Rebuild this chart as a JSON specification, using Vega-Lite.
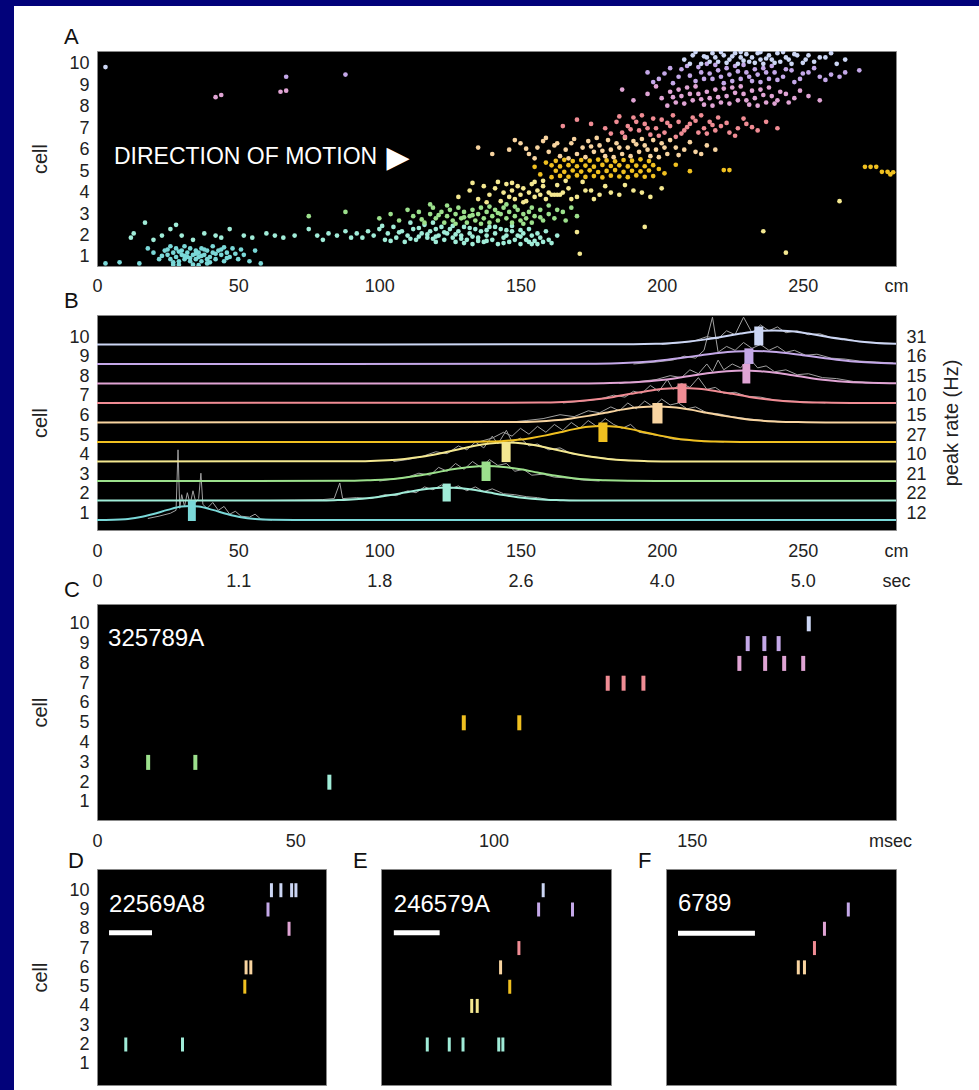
{
"$schema": "https://vega.github.io/schema/vega-lite/v6.json",
"background": "white",
"padding": 0,
"spacing": 0,
"config": {
  "font": "Liberation Sans",
  "view": {"fill": "black", "stroke": "#888"},
  "axis": {"labelFont": "Liberation Sans", "labelFontSize": 18, "labelColor": "#222", "titleFont": "Liberation Sans", "titleFontSize": 20, "titleFontWeight": "normal", "titleColor": "#222", "ticks": false, "tickSize": 0, "domain": false, "grid": false, "labelFlush": false, "labelOverlap": false},
  "title": {"font": "Liberation Sans", "fontSize": 22, "fontWeight": "normal", "color": "#111", "anchor": "start", "frame": "group"}
},
"vconcat": [
  {"width": 979, "height": 6, "view": {"fill": "#02027a", "stroke": null}, "data": {"values": []}, "mark": "rect", "encoding": {}},
  {"spacing": 16, "hconcat": [
    {"width": 14, "height": 1084, "view": {"fill": "#02027a", "stroke": null}, "data": {"values": []}, "mark": "rect", "encoding": {}},
    {"spacing": -13, "vconcat": [
      {"width": 1, "height": 13, "view": {"fill": "white", "stroke": null}, "data": {"values": []}, "mark": "rect", "encoding": {}},
      {"title": {"text": ["", "A"], "lineHeight": 19, "offset": 2, "dx": -33},
       "width": 799, "height": 215,
       "layer": [
        {"data": {"values": [
{"c":1,"p":24,"y":1.3},{"c":1,"p":25,"y":1.1},{"c":1,"p":26,"y":0.9},{"c":1,"p":27,"y":1.2},{"c":1,"p":28,"y":1.0},{"c":1,"p":28,"y":1.4},{"c":1,"p":29,"y":0.8},{"c":1,"p":30,"y":1.1},{"c":1,"p":30,"y":1.3},{"c":1,"p":31,"y":0.9},{"c":1,"p":32,"y":1.2},{"c":1,"p":32,"y":1.0},{"c":1,"p":33,"y":1.4},{"c":1,"p":33,"y":0.8},{"c":1,"p":34,"y":1.1},{"c":1,"p":35,"y":1.3},{"c":1,"p":35,"y":0.9},{"c":1,"p":36,"y":1.0},{"c":1,"p":36,"y":1.2},{"c":1,"p":37,"y":1.4},{"c":1,"p":37,"y":0.8},{"c":1,"p":38,"y":1.1},{"c":1,"p":39,"y":0.9},{"c":1,"p":39,"y":1.3},{"c":1,"p":40,"y":1.0},{"c":1,"p":41,"y":1.2},{"c":1,"p":42,"y":0.9},{"c":1,"p":43,"y":1.3},{"c":1,"p":44,"y":1.1},{"c":1,"p":45,"y":0.8},{"c":1,"p":46,"y":1.2},{"c":1,"p":47,"y":1.0},{"c":1,"p":48,"y":1.4},{"c":1,"p":50,"y":0.9},{"c":1,"p":52,"y":1.1},{"c":1,"p":54,"y":0.8},{"c":1,"p":56,"y":1.3},{"c":1,"p":22,"y":0.9},{"c":1,"p":20,"y":1.2},{"c":1,"p":18,"y":1.4},{"c":1,"p":15,"y":0.7},{"c":1,"p":29,"y":0.65},{"c":1,"p":34,"y":0.65},{"c":1,"p":39,"y":0.7},{"c":1,"p":58,"y":0.7},{"c":1,"p":31,"y":1.5},{"c":1,"p":26,"y":1.5},{"c":1,"p":41,"y":1.5},{"c":1,"p":3,"y":0.7},{"c":1,"p":8,"y":0.75},
{"c":1,"p":23,"y":1.05},{"c":1,"p":25,"y":1.35},{"c":1,"p":27,"y":0.75},{"c":1,"p":29,"y":1.25},{"c":1,"p":31,"y":1.05},{"c":1,"p":33,"y":0.95},{"c":1,"p":35,"y":1.15},{"c":1,"p":37,"y":1.05},{"c":1,"p":38,"y":1.35},{"c":1,"p":40,"y":0.75},{"c":1,"p":42,"y":1.15},{"c":1,"p":44,"y":1.35},{"c":1,"p":46,"y":0.95},{"c":1,"p":49,"y":1.15},{"c":1,"p":51,"y":1.35},{"c":1,"p":27,"y":0.65},{"c":1,"p":36,"y":0.62},{"c":1,"p":45,"y":1.45},
{"c":2,"p":12,"y":1.9},{"c":2,"p":13,"y":2.1},{"c":2,"p":17,"y":2.6},{"c":2,"p":20,"y":1.8},{"c":2,"p":23,"y":2.0},{"c":2,"p":26,"y":2.3},{"c":2,"p":28,"y":2.5},{"c":2,"p":30,"y":2.0},{"c":2,"p":34,"y":1.8},{"c":2,"p":38,"y":2.1},{"c":2,"p":42,"y":2.0},{"c":2,"p":44,"y":1.9},{"c":2,"p":47,"y":2.3},{"c":2,"p":52,"y":2.0},{"c":2,"p":55,"y":1.9},{"c":2,"p":60,"y":2.1},{"c":2,"p":63,"y":2.0},{"c":2,"p":66,"y":1.9},{"c":2,"p":70,"y":2.0},{"c":2,"p":75,"y":2.3},{"c":2,"p":78,"y":2.0},{"c":2,"p":80,"y":1.8},{"c":2,"p":82,"y":2.1},{"c":2,"p":85,"y":2.0},{"c":2,"p":88,"y":2.2},{"c":2,"p":90,"y":1.9},
{"c":2,"p":92,"y":2.1},{"c":2,"p":94,"y":1.9},{"c":2,"p":96,"y":2.2},{"c":2,"p":98,"y":2.0},{"c":2,"p":100,"y":2.3},{"c":2,"p":102,"y":1.8},{"c":2,"p":103,"y":2.1},{"c":2,"p":105,"y":2.4},{"c":2,"p":106,"y":1.9},{"c":2,"p":108,"y":2.2},{"c":2,"p":109,"y":1.7},{"c":2,"p":110,"y":2.0},{"c":2,"p":112,"y":2.3},{"c":2,"p":113,"y":1.8},{"c":2,"p":115,"y":2.1},{"c":2,"p":116,"y":2.5},{"c":2,"p":117,"y":1.9},{"c":2,"p":118,"y":2.2},{"c":2,"p":120,"y":1.7},{"c":2,"p":121,"y":2.0},{"c":2,"p":122,"y":2.4},{"c":2,"p":123,"y":1.8},{"c":2,"p":124,"y":2.1},{"c":2,"p":125,"y":2.3},{"c":2,"p":126,"y":1.9},{"c":2,"p":127,"y":1.7},{"c":2,"p":128,"y":2.2},{"c":2,"p":129,"y":2.0},{"c":2,"p":130,"y":2.4},{"c":2,"p":131,"y":1.8},{"c":2,"p":132,"y":2.1},{"c":2,"p":133,"y":1.6},{"c":2,"p":134,"y":2.3},{"c":2,"p":135,"y":1.9},{"c":2,"p":136,"y":2.2},{"c":2,"p":137,"y":1.7},{"c":2,"p":138,"y":2.0},{"c":2,"p":139,"y":2.4},{"c":2,"p":140,"y":1.8},{"c":2,"p":141,"y":2.1},{"c":2,"p":142,"y":1.6},{"c":2,"p":143,"y":2.3},{"c":2,"p":144,"y":1.9},{"c":2,"p":145,"y":2.0},{"c":2,"p":146,"y":1.7},{"c":2,"p":147,"y":2.2},{"c":2,"p":148,"y":1.8},{"c":2,"p":149,"y":2.0},{"c":2,"p":150,"y":1.6},{"c":2,"p":151,"y":2.1},{"c":2,"p":152,"y":1.8},{"c":2,"p":153,"y":1.7},{"c":2,"p":154,"y":2.0},{"c":2,"p":156,"y":1.6},{"c":2,"p":157,"y":1.9},{"c":2,"p":158,"y":1.7},{"c":2,"p":160,"y":1.8},{"c":2,"p":163,"y":2.0},{"c":2,"p":119,"y":2.6},{"c":2,"p":111,"y":2.6},{"c":2,"p":114,"y":1.95},{"c":2,"p":119,"y":1.85},{"c":2,"p":127,"y":2.05},{"c":2,"p":133,"y":1.95},{"c":2,"p":138,"y":1.75},{"c":2,"p":145,"y":2.25},{"c":2,"p":150,"y":1.95},{"c":2,"p":155,"y":1.75},
{"c":2,"p":101,"y":2.45},{"c":2,"p":104,"y":1.75},{"c":2,"p":107,"y":2.15},{"c":2,"p":111,"y":1.85},{"c":2,"p":114,"y":2.35},{"c":2,"p":117,"y":2.05},{"c":2,"p":120,"y":2.3},{"c":2,"p":123,"y":2.15},{"c":2,"p":126,"y":2.45},{"c":2,"p":129,"y":1.85},{"c":2,"p":132,"y":2.35},{"c":2,"p":135,"y":1.75},{"c":2,"p":138,"y":2.25},{"c":2,"p":141,"y":2.4},{"c":2,"p":144,"y":1.65},{"c":2,"p":147,"y":2.45},{"c":2,"p":150,"y":2.25},{"c":2,"p":153,"y":2.3},{"c":2,"p":156,"y":2.1},{"c":2,"p":159,"y":2.2},{"c":2,"p":161,"y":1.65},{"c":2,"p":154,"y":1.6},{"c":2,"p":130,"y":1.65},{"c":2,"p":120,"y":1.95},
{"c":3,"p":100,"y":2.8},{"c":3,"p":104,"y":3.0},{"c":3,"p":107,"y":2.7},{"c":3,"p":110,"y":3.2},{"c":3,"p":112,"y":2.9},{"c":3,"p":114,"y":3.1},{"c":3,"p":116,"y":2.6},{"c":3,"p":118,"y":3.0},{"c":3,"p":119,"y":3.3},{"c":3,"p":120,"y":2.8},{"c":3,"p":122,"y":3.1},{"c":3,"p":123,"y":2.6},{"c":3,"p":124,"y":2.9},{"c":3,"p":125,"y":3.2},{"c":3,"p":126,"y":2.7},{"c":3,"p":127,"y":3.0},{"c":3,"p":128,"y":3.3},{"c":3,"p":129,"y":2.8},{"c":3,"p":130,"y":3.1},{"c":3,"p":131,"y":2.6},{"c":3,"p":132,"y":2.9},{"c":3,"p":133,"y":3.2},{"c":3,"p":134,"y":2.7},{"c":3,"p":135,"y":3.0},{"c":3,"p":136,"y":3.3},{"c":3,"p":137,"y":2.8},{"c":3,"p":138,"y":3.1},{"c":3,"p":139,"y":2.6},{"c":3,"p":140,"y":2.9},{"c":3,"p":141,"y":3.2},{"c":3,"p":142,"y":2.7},{"c":3,"p":143,"y":3.0},{"c":3,"p":144,"y":3.3},{"c":3,"p":145,"y":2.8},{"c":3,"p":146,"y":3.1},{"c":3,"p":147,"y":2.6},{"c":3,"p":148,"y":2.9},{"c":3,"p":149,"y":3.2},{"c":3,"p":150,"y":2.7},{"c":3,"p":151,"y":3.0},{"c":3,"p":152,"y":2.8},{"c":3,"p":153,"y":3.1},{"c":3,"p":154,"y":2.6},{"c":3,"p":155,"y":2.9},{"c":3,"p":157,"y":3.2},{"c":3,"p":158,"y":2.7},{"c":3,"p":160,"y":3.0},{"c":3,"p":162,"y":2.8},{"c":3,"p":165,"y":3.1},{"c":3,"p":170,"y":2.9},{"c":3,"p":88,"y":3.1},{"c":3,"p":75,"y":2.9},
{"c":3,"p":115,"y":2.75},{"c":3,"p":118,"y":3.45},{"c":3,"p":121,"y":2.95},{"c":3,"p":124,"y":3.4},{"c":3,"p":127,"y":2.55},{"c":3,"p":130,"y":2.85},{"c":3,"p":133,"y":2.95},{"c":3,"p":136,"y":2.55},{"c":3,"p":139,"y":3.35},{"c":3,"p":142,"y":3.05},{"c":3,"p":145,"y":3.45},{"c":3,"p":148,"y":3.35},{"c":3,"p":151,"y":2.55},{"c":3,"p":154,"y":3.3},{"c":3,"p":157,"y":2.85},{"c":3,"p":160,"y":3.4},{"c":3,"p":163,"y":3.2},{"c":3,"p":166,"y":2.7},{"c":3,"p":168,"y":3.3},
{"c":4,"p":128,"y":3.8},{"c":4,"p":132,"y":4.1},{"c":4,"p":135,"y":3.7},{"c":4,"p":137,"y":4.3},{"c":4,"p":139,"y":3.9},{"c":4,"p":141,"y":4.2},{"c":4,"p":143,"y":3.6},{"c":4,"p":144,"y":4.0},{"c":4,"p":145,"y":4.4},{"c":4,"p":146,"y":3.8},{"c":4,"p":147,"y":4.1},{"c":4,"p":148,"y":3.7},{"c":4,"p":149,"y":4.3},{"c":4,"p":150,"y":3.9},{"c":4,"p":151,"y":4.2},{"c":4,"p":152,"y":3.6},{"c":4,"p":153,"y":4.0},{"c":4,"p":154,"y":4.4},{"c":4,"p":155,"y":3.8},{"c":4,"p":156,"y":4.1},{"c":4,"p":157,"y":3.9},{"c":4,"p":158,"y":4.3},{"c":4,"p":159,"y":3.7},{"c":4,"p":160,"y":4.0},{"c":4,"p":161,"y":3.9},{"c":4,"p":162,"y":3.9},{"c":4,"p":163,"y":3.9},{"c":4,"p":164,"y":3.9},{"c":4,"p":165,"y":4.0},{"c":4,"p":167,"y":4.2},{"c":4,"p":170,"y":3.8},{"c":4,"p":173,"y":4.1},{"c":4,"p":176,"y":3.7},{"c":4,"p":180,"y":4.3},{"c":4,"p":185,"y":3.9},{"c":4,"p":190,"y":4.1},{"c":4,"p":196,"y":3.8},{"c":4,"p":200,"y":4.2},{"c":4,"p":170,"y":2.16},{"c":4,"p":194,"y":2.4},{"c":4,"p":236,"y":2.2},{"c":4,"p":244,"y":1.2},{"c":4,"p":263,"y":3.6},{"c":4,"p":171,"y":1.15},
{"c":4,"p":133,"y":4.45},{"c":4,"p":138,"y":3.55},{"c":4,"p":142,"y":4.5},{"c":4,"p":147,"y":4.45},{"c":4,"p":151,"y":3.55},{"c":4,"p":155,"y":4.5},{"c":4,"p":158,"y":4.55},{"c":4,"p":163,"y":4.35},{"c":4,"p":166,"y":4.55},{"c":4,"p":168,"y":3.7},{"c":4,"p":172,"y":4.5},{"c":4,"p":175,"y":4.1},{"c":4,"p":178,"y":3.9},{"c":4,"p":182,"y":4.0},{"c":4,"p":187,"y":4.35},{"c":4,"p":193,"y":4.0},
{"c":5,"p":161,"y":4.72},{"c":5,"p":164,"y":4.78},{"c":5,"p":167,"y":4.74},{"c":5,"p":170,"y":4.8},{"c":5,"p":173,"y":4.73},{"c":5,"p":176,"y":4.77},{"c":5,"p":179,"y":4.71},{"c":5,"p":182,"y":4.79},{"c":5,"p":185,"y":4.75},{"c":5,"p":188,"y":4.72},{"c":5,"p":191,"y":4.8},{"c":5,"p":194,"y":4.74},{"c":5,"p":197,"y":4.77},
{"c":5,"p":162.5,"y":5.02},{"c":5,"p":165.5,"y":4.97},{"c":5,"p":168.5,"y":5.03},{"c":5,"p":171.5,"y":4.98},{"c":5,"p":174.5,"y":5.04},{"c":5,"p":177.5,"y":4.96},{"c":5,"p":180.5,"y":5.01},{"c":5,"p":183.5,"y":5.05},{"c":5,"p":186.5,"y":4.97},{"c":5,"p":189.5,"y":5.02},{"c":5,"p":192.5,"y":4.99},{"c":5,"p":195.5,"y":5.03},
{"c":5,"p":161,"y":5.27},{"c":5,"p":164,"y":5.22},{"c":5,"p":167,"y":5.28},{"c":5,"p":170,"y":5.23},{"c":5,"p":173,"y":5.26},{"c":5,"p":176,"y":5.21},{"c":5,"p":179,"y":5.29},{"c":5,"p":182,"y":5.24},{"c":5,"p":185,"y":5.27},{"c":5,"p":188,"y":5.22},{"c":5,"p":191,"y":5.26},{"c":5,"p":194,"y":5.23},{"c":5,"p":197,"y":5.28},
{"c":5,"p":162.5,"y":5.48},{"c":5,"p":165.5,"y":5.53},{"c":5,"p":168.5,"y":5.47},{"c":5,"p":171.5,"y":5.52},{"c":5,"p":174.5,"y":5.49},{"c":5,"p":177.5,"y":5.54},{"c":5,"p":180.5,"y":5.5},{"c":5,"p":183.5,"y":5.46},{"c":5,"p":186.5,"y":5.52},{"c":5,"p":189.5,"y":5.49},{"c":5,"p":192.5,"y":5.55},{"c":5,"p":195.5,"y":5.47},
{"c":5,"p":157,"y":4.85},{"c":5,"p":155,"y":5.2},{"c":5,"p":159,"y":5.4},{"c":5,"p":199,"y":5.1},{"c":5,"p":201,"y":4.9},{"c":5,"p":205,"y":5.3},{"c":5,"p":210,"y":5.0},{"c":5,"p":222,"y":5.05},{"c":5,"p":224,"y":5.05},{"c":5,"p":272,"y":5.2},{"c":5,"p":274,"y":5.2},{"c":5,"p":276,"y":5.2},{"c":5,"p":278,"y":4.97},{"c":5,"p":280,"y":4.97},{"c":5,"p":282,"y":4.95},{"c":5,"p":281,"y":4.85},
{"c":6,"p":146,"y":6.0},{"c":6,"p":150,"y":6.3},{"c":6,"p":153,"y":5.8},{"c":6,"p":156,"y":6.1},{"c":6,"p":158,"y":6.4},{"c":6,"p":160,"y":5.9},{"c":6,"p":162,"y":6.2},{"c":6,"p":164,"y":5.7},{"c":6,"p":166,"y":6.0},{"c":6,"p":168,"y":6.3},{"c":6,"p":170,"y":5.8},{"c":6,"p":172,"y":6.1},{"c":6,"p":174,"y":6.4},{"c":6,"p":176,"y":5.9},{"c":6,"p":178,"y":6.2},{"c":6,"p":180,"y":5.7},{"c":6,"p":182,"y":6.0},{"c":6,"p":184,"y":6.3},{"c":6,"p":186,"y":5.8},{"c":6,"p":188,"y":6.1},{"c":6,"p":190,"y":6.4},{"c":6,"p":192,"y":5.9},{"c":6,"p":194,"y":6.2},{"c":6,"p":196,"y":5.7},{"c":6,"p":198,"y":6.0},{"c":6,"p":200,"y":6.3},{"c":6,"p":202,"y":5.8},{"c":6,"p":205,"y":6.1},{"c":6,"p":208,"y":6.0},{"c":6,"p":212,"y":5.9},{"c":6,"p":216,"y":6.2},{"c":6,"p":135,"y":6.1},{"c":6,"p":140,"y":5.8},
{"c":6,"p":148,"y":6.45},{"c":6,"p":152,"y":6.05},{"c":6,"p":155,"y":5.6},{"c":6,"p":159,"y":6.55},{"c":6,"p":163,"y":6.3},{"c":6,"p":167,"y":5.6},{"c":6,"p":169,"y":6.5},{"c":6,"p":173,"y":5.65},{"c":6,"p":175,"y":6.15},{"c":6,"p":177,"y":6.55},{"c":6,"p":179,"y":5.95},{"c":6,"p":181,"y":6.45},{"c":6,"p":183,"y":5.65},{"c":6,"p":185,"y":6.1},{"c":6,"p":187,"y":6.55},{"c":6,"p":189,"y":5.7},{"c":6,"p":191,"y":6.25},{"c":6,"p":193,"y":6.5},{"c":6,"p":195,"y":6.0},{"c":6,"p":197,"y":6.45},{"c":6,"p":199,"y":5.65},{"c":6,"p":201,"y":6.1},{"c":6,"p":203,"y":6.45},{"c":6,"p":206,"y":5.75},{"c":6,"p":210,"y":6.35},{"c":6,"p":214,"y":5.8},{"c":6,"p":219,"y":6.0},
{"c":7,"p":180,"y":7.0},{"c":7,"p":184,"y":7.3},{"c":7,"p":186,"y":6.8},{"c":7,"p":188,"y":7.1},{"c":7,"p":190,"y":7.5},{"c":7,"p":192,"y":6.9},{"c":7,"p":194,"y":7.2},{"c":7,"p":196,"y":6.7},{"c":7,"p":198,"y":7.0},{"c":7,"p":200,"y":7.4},{"c":7,"p":201,"y":6.8},{"c":7,"p":203,"y":7.1},{"c":7,"p":205,"y":6.6},{"c":7,"p":206,"y":7.3},{"c":7,"p":208,"y":6.9},{"c":7,"p":210,"y":7.2},{"c":7,"p":211,"y":7.5},{"c":7,"p":213,"y":6.8},{"c":7,"p":215,"y":7.0},{"c":7,"p":217,"y":7.3},{"c":7,"p":219,"y":6.9},{"c":7,"p":221,"y":7.1},{"c":7,"p":224,"y":6.8},{"c":7,"p":227,"y":7.0},{"c":7,"p":230,"y":7.2},{"c":7,"p":234,"y":6.9},{"c":7,"p":175,"y":7.2},{"c":7,"p":170,"y":7.4},{"c":7,"p":165,"y":7.1},
{"c":7,"p":182,"y":6.75},{"c":7,"p":185,"y":7.55},{"c":7,"p":187,"y":6.6},{"c":7,"p":189,"y":6.95},{"c":7,"p":191,"y":7.3},{"c":7,"p":193,"y":7.6},{"c":7,"p":195,"y":7.0},{"c":7,"p":197,"y":7.45},{"c":7,"p":199,"y":6.65},{"c":7,"p":202,"y":7.25},{"c":7,"p":204,"y":7.6},{"c":7,"p":207,"y":6.75},{"c":7,"p":209,"y":7.05},{"c":7,"p":212,"y":7.35},{"c":7,"p":214,"y":7.6},{"c":7,"p":216,"y":6.75},{"c":7,"p":218,"y":7.15},{"c":7,"p":220,"y":7.5},{"c":7,"p":223,"y":7.25},{"c":7,"p":226,"y":6.65},{"c":7,"p":229,"y":7.45},{"c":7,"p":232,"y":7.05},{"c":7,"p":237,"y":7.3},{"c":7,"p":241,"y":7.0},
{"c":8,"p":200,"y":8.4},{"c":8,"p":203,"y":8.7},{"c":8,"p":205,"y":8.2},{"c":8,"p":207,"y":8.5},{"c":8,"p":209,"y":8.9},{"c":8,"p":211,"y":8.3},{"c":8,"p":213,"y":8.6},{"c":8,"p":215,"y":8.1},{"c":8,"p":217,"y":8.4},{"c":8,"p":219,"y":8.8},{"c":8,"p":221,"y":8.2},{"c":8,"p":223,"y":8.5},{"c":8,"p":225,"y":8.9},{"c":8,"p":227,"y":8.3},{"c":8,"p":229,"y":8.6},{"c":8,"p":231,"y":8.1},{"c":8,"p":233,"y":8.4},{"c":8,"p":235,"y":8.8},{"c":8,"p":237,"y":8.2},{"c":8,"p":239,"y":8.5},{"c":8,"p":241,"y":8.3},{"c":8,"p":244,"y":8.6},{"c":8,"p":247,"y":8.4},{"c":8,"p":195,"y":8.6},{"c":8,"p":190,"y":8.3},{"c":8,"p":186,"y":8.8},{"c":8,"p":42,"y":8.45},{"c":8,"p":44,"y":8.55},{"c":8,"p":65,"y":8.7},{"c":8,"p":67,"y":8.75},
{"c":8,"p":202,"y":8.05},{"c":8,"p":204,"y":8.45},{"c":8,"p":206,"y":8.8},{"c":8,"p":208,"y":8.15},{"c":8,"p":210,"y":8.6},{"c":8,"p":212,"y":8.95},{"c":8,"p":214,"y":8.35},{"c":8,"p":216,"y":8.7},{"c":8,"p":218,"y":8.05},{"c":8,"p":220,"y":8.45},{"c":8,"p":222,"y":8.85},{"c":8,"p":224,"y":8.15},{"c":8,"p":226,"y":8.65},{"c":8,"p":228,"y":8.95},{"c":8,"p":230,"y":8.3},{"c":8,"p":232,"y":8.75},{"c":8,"p":234,"y":8.05},{"c":8,"p":236,"y":8.55},{"c":8,"p":238,"y":8.9},{"c":8,"p":240,"y":8.15},{"c":8,"p":242,"y":8.7},{"c":8,"p":245,"y":8.2},{"c":8,"p":249,"y":8.75},{"c":8,"p":252,"y":8.5},{"c":8,"p":256,"y":8.3},{"c":8,"p":198,"y":8.95},
{"c":9,"p":195,"y":9.6},{"c":9,"p":199,"y":9.3},{"c":9,"p":203,"y":9.8},{"c":9,"p":206,"y":9.4},{"c":9,"p":209,"y":9.9},{"c":9,"p":212,"y":9.2},{"c":9,"p":214,"y":9.6},{"c":9,"p":216,"y":10.0},{"c":9,"p":218,"y":9.3},{"c":9,"p":220,"y":9.7},{"c":9,"p":222,"y":9.1},{"c":9,"p":224,"y":9.5},{"c":9,"p":226,"y":9.9},{"c":9,"p":228,"y":9.3},{"c":9,"p":230,"y":9.6},{"c":9,"p":232,"y":9.2},{"c":9,"p":234,"y":9.5},{"c":9,"p":236,"y":9.8},{"c":9,"p":238,"y":9.3},{"c":9,"p":240,"y":9.6},{"c":9,"p":243,"y":9.4},{"c":9,"p":246,"y":9.7},{"c":9,"p":249,"y":9.3},{"c":9,"p":252,"y":9.6},{"c":9,"p":256,"y":9.4},{"c":9,"p":260,"y":9.5},{"c":9,"p":265,"y":9.6},{"c":9,"p":270,"y":9.7},{"c":9,"p":67,"y":9.4},{"c":9,"p":88,"y":9.5},
{"c":9,"p":197,"y":9.15},{"c":9,"p":201,"y":9.55},{"c":9,"p":204,"y":9.1},{"c":9,"p":207,"y":9.75},{"c":9,"p":210,"y":9.45},{"c":9,"p":213,"y":9.85},{"c":9,"p":215,"y":9.3},{"c":9,"p":217,"y":9.55},{"c":9,"p":219,"y":9.95},{"c":9,"p":221,"y":9.4},{"c":9,"p":223,"y":9.8},{"c":9,"p":225,"y":9.2},{"c":9,"p":227,"y":9.65},{"c":9,"p":229,"y":9.95},{"c":9,"p":231,"y":9.4},{"c":9,"p":233,"y":9.75},{"c":9,"p":235,"y":9.15},{"c":9,"p":237,"y":9.6},{"c":9,"p":239,"y":9.9},{"c":9,"p":241,"y":9.25},{"c":9,"p":244,"y":9.75},{"c":9,"p":247,"y":9.15},{"c":9,"p":250,"y":9.55},{"c":9,"p":254,"y":9.8},{"c":9,"p":258,"y":9.25},{"c":9,"p":263,"y":9.4},
{"c":10,"p":208,"y":10.2},{"c":10,"p":211,"y":10.4},{"c":10,"p":214,"y":10.0},{"c":10,"p":216,"y":10.3},{"c":10,"p":218,"y":10.5},{"c":10,"p":220,"y":10.1},{"c":10,"p":222,"y":10.4},{"c":10,"p":224,"y":10.2},{"c":10,"p":226,"y":10.5},{"c":10,"p":227,"y":10.0},{"c":10,"p":228,"y":10.3},{"c":10,"p":230,"y":10.45},{"c":10,"p":231,"y":10.1},{"c":10,"p":232,"y":10.3},{"c":10,"p":234,"y":10.5},{"c":10,"p":235,"y":10.2},{"c":10,"p":236,"y":10.0},{"c":10,"p":238,"y":10.4},{"c":10,"p":239,"y":10.2},{"c":10,"p":241,"y":10.5},{"c":10,"p":242,"y":10.1},{"c":10,"p":244,"y":10.3},{"c":10,"p":246,"y":10.0},{"c":10,"p":248,"y":10.4},{"c":10,"p":251,"y":10.2},{"c":10,"p":254,"y":10.1},{"c":10,"p":258,"y":10.3},{"c":10,"p":262,"y":10.0},{"c":10,"p":3,"y":9.85},
{"c":10,"p":210,"y":10.0},{"c":10,"p":212,"y":10.55},{"c":10,"p":215,"y":10.35},{"c":10,"p":217,"y":10.1},{"c":10,"p":219,"y":10.3},{"c":10,"p":221,"y":10.55},{"c":10,"p":223,"y":10.05},{"c":10,"p":225,"y":10.35},{"c":10,"p":228,"y":10.55},{"c":10,"p":229,"y":10.15},{"c":10,"p":233,"y":10.05},{"c":10,"p":235,"y":10.55},{"c":10,"p":237,"y":10.25},{"c":10,"p":240,"y":10.05},{"c":10,"p":243,"y":10.55},{"c":10,"p":245,"y":10.2},{"c":10,"p":247,"y":10.45},{"c":10,"p":250,"y":10.05},{"c":10,"p":252,"y":10.4},{"c":10,"p":256,"y":10.3},{"c":10,"p":260,"y":10.5},{"c":10,"p":265,"y":10.2}
        ]},
         "mark": {"type": "circle", "size": 22, "opacity": 1, "clip": true},
         "encoding": {
           "x": {"field": "p", "type": "quantitative", "scale": {"domain": [0, 283], "nice": false, "zero": false}, "axis": {"values": [0, 50, 100, 150, 200, 250, 283], "labelExpr": "datum.value > 280 ? 'cm' : datum.label", "labelPadding": 11, "labelOverlap": false, "title": null}},
           "y": {"field": "y", "type": "quantitative", "scale": {"domain": [0.58, 10.6], "nice": false, "zero": false}, "axis": {"values": [1,2,3,4,5,6,7,8,9,10], "labelOverlap": false, "title": "cell", "labelPadding": 8, "titlePadding": 18}},
           "color": {"field": "c", "type": "nominal", "scale": {"domain": [1,2,3,4,5,6,7,8,9,10], "range": ["#7ad8d8","#a0ecd8","#9ce08c","#f4e890","#f0c020","#f8d4a0","#f08c94","#e0a4d4","#c4a8e8","#ccd6f4"]}, "legend": null}
         }},
        {"data": {"values": [{"s": "DIRECTION OF MOTION", "p": 6, "y": 5.66}]},
         "mark": {"type": "text", "align": "left", "baseline": "middle", "fontSize": 23, "color": "white", "font": "Liberation Sans"},
         "encoding": {
           "x": {"field": "p", "type": "quantitative", "axis": {"values": [0, 50, 100, 150, 200, 250, 283], "labelExpr": "datum.value > 280 ? 'cm' : datum.label", "labelPadding": 11, "labelOverlap": false, "title": null}},
           "y": {"field": "y", "type": "quantitative", "axis": {"values": [1,2,3,4,5,6,7,8,9,10], "labelOverlap": false, "title": "cell", "labelPadding": 8, "titlePadding": 18}},
           "text": {"field": "s"}}},
        {"data": {"values": [{"s": "▶", "p": 102.5, "y": 5.62}]},
         "mark": {"type": "text", "align": "left", "baseline": "middle", "fontSize": 30, "color": "white", "font": "DejaVu Sans"},
         "encoding": {
           "x": {"field": "p", "type": "quantitative", "axis": {"values": [0, 50, 100, 150, 200, 250, 283], "labelExpr": "datum.value > 280 ? 'cm' : datum.label", "labelPadding": 11, "labelOverlap": false, "title": null}},
           "y": {"field": "y", "type": "quantitative", "axis": {"values": [1,2,3,4,5,6,7,8,9,10], "labelOverlap": false, "title": "cell", "labelPadding": 8, "titlePadding": 18}},
           "text": {"field": "s"}}}
       ]},
      {"title": {"text": ["", "B"], "lineHeight": 6, "offset": 2, "dx": -33},
       "width": 799, "height": 215,
       "resolve": {"axis": {"y": "independent"}},
       "layer": [
        {"data": {"values": [
{"c":1,"x":18,"v":1.08},{"c":1,"x":22,"v":1.2},{"c":1,"x":26,"v":1.35},{"c":1,"x":28,"v":1.5},{"c":1,"x":28.7,"v":4.6},{"c":1,"x":29.3,"v":1.6},{"c":1,"x":30,"v":2.3},{"c":1,"x":31,"v":1.7},{"c":1,"x":32,"v":2.4},{"c":1,"x":33,"v":1.8},{"c":1,"x":34,"v":2.5},{"c":1,"x":35,"v":1.9},{"c":1,"x":36,"v":2.1},{"c":1,"x":36.8,"v":3.4},{"c":1,"x":37.5,"v":1.8},{"c":1,"x":39,"v":1.6},{"c":1,"x":41,"v":1.9},{"c":1,"x":43,"v":1.5},{"c":1,"x":45,"v":1.7},{"c":1,"x":47,"v":1.3},{"c":1,"x":49,"v":1.45},{"c":1,"x":51,"v":1.2},{"c":1,"x":54,"v":1.15},{"c":1,"x":56,"v":1.3},{"c":1,"x":58,"v":1.05},{"c":1,"x":62,"v":1.0},
{"c":2,"x":60,"v":2.0},{"c":2,"x":70,"v":2.02},{"c":2,"x":80,"v":2.05},{"c":2,"x":84,"v":2.1},{"c":2,"x":86,"v":2.9},{"c":2,"x":87,"v":2.1},{"c":2,"x":92,"v":2.15},{"c":2,"x":97,"v":2.1},{"c":2,"x":102,"v":2.3},{"c":2,"x":106,"v":2.25},{"c":2,"x":110,"v":2.5},{"c":2,"x":113,"v":2.4},{"c":2,"x":116,"v":2.7},{"c":2,"x":119,"v":2.55},{"c":2,"x":122,"v":2.8},{"c":2,"x":125,"v":2.6},{"c":2,"x":128,"v":2.75},{"c":2,"x":131,"v":2.5},{"c":2,"x":134,"v":2.7},{"c":2,"x":137,"v":2.45},{"c":2,"x":140,"v":2.6},{"c":2,"x":144,"v":2.35},{"c":2,"x":148,"v":2.3},{"c":2,"x":152,"v":2.2},{"c":2,"x":156,"v":2.15},{"c":2,"x":160,"v":2.05},{"c":2,"x":166,"v":2.02},{"c":2,"x":172,"v":2.0},
{"c":3,"x":100,"v":3.0},{"c":3,"x":105,"v":3.1},{"c":3,"x":110,"v":3.2},{"c":3,"x":114,"v":3.4},{"c":3,"x":118,"v":3.3},{"c":3,"x":121,"v":3.7},{"c":3,"x":124,"v":3.5},{"c":3,"x":127,"v":3.9},{"c":3,"x":130,"v":3.6},{"c":3,"x":133,"v":4.0},{"c":3,"x":136,"v":3.7},{"c":3,"x":139,"v":4.1},{"c":3,"x":142,"v":3.8},{"c":3,"x":145,"v":3.9},{"c":3,"x":148,"v":3.5},{"c":3,"x":151,"v":3.6},{"c":3,"x":154,"v":3.3},{"c":3,"x":158,"v":3.35},{"c":3,"x":162,"v":3.2},{"c":3,"x":167,"v":3.15},{"c":3,"x":172,"v":3.05},{"c":3,"x":178,"v":3.0},
{"c":4,"x":105,"v":4.0},{"c":4,"x":110,"v":4.1},{"c":4,"x":115,"v":4.25},{"c":4,"x":120,"v":4.5},{"c":4,"x":124,"v":4.4},{"c":4,"x":128,"v":4.8},{"c":4,"x":131,"v":4.6},{"c":4,"x":134,"v":5.0},{"c":4,"x":137,"v":4.7},{"c":4,"x":140,"v":5.3},{"c":4,"x":142,"v":4.9},{"c":4,"x":145,"v":5.6},{"c":4,"x":147,"v":5.0},{"c":4,"x":150,"v":5.2},{"c":4,"x":153,"v":4.8},{"c":4,"x":156,"v":4.9},{"c":4,"x":160,"v":4.6},{"c":4,"x":164,"v":4.7},{"c":4,"x":168,"v":4.4},{"c":4,"x":173,"v":4.3},{"c":4,"x":178,"v":4.2},{"c":4,"x":184,"v":4.1},{"c":4,"x":190,"v":4.05},{"c":4,"x":196,"v":4.0},
{"c":5,"x":135,"v":5.0},{"c":5,"x":140,"v":5.2},{"c":5,"x":144,"v":5.5},{"c":5,"x":147,"v":5.3},{"c":5,"x":150,"v":5.7},{"c":5,"x":153,"v":5.4},{"c":5,"x":156,"v":5.8},{"c":5,"x":159,"v":5.5},{"c":5,"x":162,"v":5.9},{"c":5,"x":165,"v":5.6},{"c":5,"x":168,"v":6.0},{"c":5,"x":171,"v":5.7},{"c":5,"x":174,"v":6.1},{"c":5,"x":177,"v":5.8},{"c":5,"x":180,"v":6.2},{"c":5,"x":183,"v":5.9},{"c":5,"x":186,"v":5.7},{"c":5,"x":189,"v":5.9},{"c":5,"x":192,"v":5.5},{"c":5,"x":196,"v":5.4},{"c":5,"x":200,"v":5.3},{"c":5,"x":204,"v":5.15},{"c":5,"x":209,"v":5.1},{"c":5,"x":215,"v":5.05},{"c":5,"x":222,"v":5.0},
{"c":6,"x":145,"v":6.0},{"c":6,"x":152,"v":6.1},{"c":6,"x":158,"v":6.2},{"c":6,"x":164,"v":6.4},{"c":6,"x":169,"v":6.3},{"c":6,"x":174,"v":6.6},{"c":6,"x":178,"v":6.5},{"c":6,"x":182,"v":6.8},{"c":6,"x":185,"v":6.6},{"c":6,"x":188,"v":7.0},{"c":6,"x":191,"v":6.7},{"c":6,"x":194,"v":7.1},{"c":6,"x":197,"v":6.8},{"c":6,"x":200,"v":7.2},{"c":6,"x":203,"v":6.9},{"c":6,"x":206,"v":7.0},{"c":6,"x":209,"v":6.7},{"c":6,"x":212,"v":6.8},{"c":6,"x":216,"v":6.5},{"c":6,"x":220,"v":6.45},{"c":6,"x":225,"v":6.3},{"c":6,"x":230,"v":6.2},{"c":6,"x":236,"v":6.1},{"c":6,"x":243,"v":6.05},{"c":6,"x":250,"v":6.0},
{"c":7,"x":165,"v":7.0},{"c":7,"x":172,"v":7.1},{"c":7,"x":178,"v":7.2},{"c":7,"x":183,"v":7.4},{"c":7,"x":187,"v":7.3},{"c":7,"x":190,"v":7.6},{"c":7,"x":193,"v":7.5},{"c":7,"x":196,"v":7.9},{"c":7,"x":199,"v":7.6},{"c":7,"x":202,"v":8.2},{"c":7,"x":204,"v":7.7},{"c":7,"x":207,"v":8.0},{"c":7,"x":210,"v":7.8},{"c":7,"x":213,"v":8.3},{"c":7,"x":216,"v":7.7},{"c":7,"x":219,"v":7.8},{"c":7,"x":222,"v":7.5},{"c":7,"x":226,"v":7.55},{"c":7,"x":230,"v":7.35},{"c":7,"x":235,"v":7.3},{"c":7,"x":240,"v":7.15},{"c":7,"x":246,"v":7.1},{"c":7,"x":252,"v":7.05},{"c":7,"x":258,"v":7.0},
{"c":8,"x":185,"v":8.0},{"c":8,"x":192,"v":8.1},{"c":8,"x":198,"v":8.2},{"c":8,"x":203,"v":8.4},{"c":8,"x":207,"v":8.3},{"c":8,"x":210,"v":8.7},{"c":8,"x":213,"v":8.5},{"c":8,"x":216,"v":9.0},{"c":8,"x":218,"v":8.6},{"c":8,"x":220,"v":9.2},{"c":8,"x":222,"v":8.7},{"c":8,"x":225,"v":9.0},{"c":8,"x":228,"v":8.8},{"c":8,"x":231,"v":9.3},{"c":8,"x":234,"v":8.8},{"c":8,"x":237,"v":8.9},{"c":8,"x":240,"v":8.6},{"c":8,"x":244,"v":8.7},{"c":8,"x":248,"v":8.45},{"c":8,"x":252,"v":8.5},{"c":8,"x":257,"v":8.3},{"c":8,"x":262,"v":8.25},{"c":8,"x":268,"v":8.1},{"c":8,"x":275,"v":8.05},{"c":8,"x":282,"v":8.0},
{"c":9,"x":190,"v":9.0},{"c":9,"x":198,"v":9.1},{"c":9,"x":204,"v":9.2},{"c":9,"x":208,"v":9.4},{"c":9,"x":212,"v":9.3},{"c":9,"x":215,"v":9.7},{"c":9,"x":218,"v":11.4},{"c":9,"x":220,"v":9.6},{"c":9,"x":223,"v":9.9},{"c":9,"x":226,"v":9.7},{"c":9,"x":229,"v":10.1},{"c":9,"x":232,"v":9.8},{"c":9,"x":235,"v":10.0},{"c":9,"x":238,"v":9.7},{"c":9,"x":241,"v":9.9},{"c":9,"x":244,"v":9.6},{"c":9,"x":247,"v":9.7},{"c":9,"x":251,"v":9.45},{"c":9,"x":255,"v":9.5},{"c":9,"x":260,"v":9.3},{"c":9,"x":265,"v":9.25},{"c":9,"x":270,"v":9.15},{"c":9,"x":276,"v":9.1},{"c":9,"x":282,"v":9.05},
{"c":10,"x":200,"v":10.0},{"c":10,"x":207,"v":10.1},{"c":10,"x":212,"v":10.2},{"c":10,"x":216,"v":10.4},{"c":10,"x":220,"v":10.3},{"c":10,"x":223,"v":10.7},{"c":10,"x":226,"v":10.5},{"c":10,"x":229,"v":11.4},{"c":10,"x":232,"v":10.6},{"c":10,"x":235,"v":11.0},{"c":10,"x":238,"v":10.7},{"c":10,"x":241,"v":10.9},{"c":10,"x":244,"v":10.6},{"c":10,"x":248,"v":10.7},{"c":10,"x":252,"v":10.5},{"c":10,"x":256,"v":10.55},{"c":10,"x":260,"v":10.35},{"c":10,"x":265,"v":10.3},{"c":10,"x":270,"v":10.15},{"c":10,"x":276,"v":10.1},{"c":10,"x":282,"v":10.05}
        ]},
         "mark": {"type": "line", "strokeWidth": 1, "color": "#a0a0a0", "clip": true},
         "encoding": {
           "x": {"field": "x", "type": "quantitative", "scale": {"domain": [0, 283], "nice": false, "zero": false}, "axis": {"values": [0, 50, 100, 150, 200, 250, 283], "labelExpr": "datum.value > 280 ? ['cm','sec'] : datum.value == 0 ? ['0','0'] : datum.value == 50 ? ['50','1.1'] : datum.value == 100 ? ['100','1.8'] : datum.value == 150 ? ['150','2.6'] : datum.value == 200 ? ['200','4.0'] : ['250','5.0']", "labelLineHeight": 30, "labelPadding": 12, "labelOverlap": false, "title": null}},
           "y": {"field": "v", "type": "quantitative", "scale": {"domain": [0.49, 11.51], "nice": false, "zero": false}, "axis": null},
           "detail": {"field": "c", "type": "nominal"}
         }},
        {"data": {"values": [
{"c":1,"x":0,"v":1},{"c":1,"x":10,"v":1.04},{"c":1,"x":15,"v":1.14},{"c":1,"x":20,"v":1.31},{"c":1,"x":25,"v":1.52},{"c":1,"x":30,"v":1.69},{"c":1,"x":33,"v":1.72},{"c":1,"x":36,"v":1.69},{"c":1,"x":41,"v":1.52},{"c":1,"x":46,"v":1.31},{"c":1,"x":51,"v":1.14},{"c":1,"x":56,"v":1.05},{"c":1,"x":62,"v":1.01},{"c":1,"x":70,"v":1},{"c":1,"x":283,"v":1},
{"c":2,"x":0,"v":2},{"c":2,"x":75,"v":2},{"c":2,"x":84,"v":2.02},{"c":2,"x":89,"v":2.04},{"c":2,"x":94,"v":2.09},{"c":2,"x":99,"v":2.17},{"c":2,"x":104,"v":2.28},{"c":2,"x":109,"v":2.41},{"c":2,"x":114,"v":2.54},{"c":2,"x":119,"v":2.63},{"c":2,"x":124,"v":2.67},{"c":2,"x":129,"v":2.63},{"c":2,"x":134,"v":2.54},{"c":2,"x":139,"v":2.41},{"c":2,"x":144,"v":2.28},{"c":2,"x":149,"v":2.17},{"c":2,"x":154,"v":2.09},{"c":2,"x":159,"v":2.04},{"c":2,"x":164,"v":2.02},{"c":2,"x":172,"v":2},{"c":2,"x":283,"v":2},
{"c":3,"x":0,"v":3},{"c":3,"x":88,"v":3.01},{"c":3,"x":96,"v":3.04},{"c":3,"x":102,"v":3.08},{"c":3,"x":108,"v":3.16},{"c":3,"x":114,"v":3.28},{"c":3,"x":120,"v":3.44},{"c":3,"x":126,"v":3.6},{"c":3,"x":132,"v":3.72},{"c":3,"x":138,"v":3.77},{"c":3,"x":144,"v":3.72},{"c":3,"x":150,"v":3.6},{"c":3,"x":156,"v":3.44},{"c":3,"x":162,"v":3.28},{"c":3,"x":168,"v":3.16},{"c":3,"x":174,"v":3.08},{"c":3,"x":180,"v":3.04},{"c":3,"x":188,"v":3.01},{"c":3,"x":198,"v":3},{"c":3,"x":283,"v":3},
{"c":4,"x":0,"v":4},{"c":4,"x":95,"v":4.02},{"c":4,"x":103,"v":4.06},{"c":4,"x":109,"v":4.13},{"c":4,"x":115,"v":4.24},{"c":4,"x":121,"v":4.4},{"c":4,"x":127,"v":4.59},{"c":4,"x":133,"v":4.78},{"c":4,"x":139,"v":4.92},{"c":4,"x":145,"v":4.97},{"c":4,"x":151,"v":4.92},{"c":4,"x":157,"v":4.78},{"c":4,"x":163,"v":4.59},{"c":4,"x":169,"v":4.4},{"c":4,"x":175,"v":4.24},{"c":4,"x":181,"v":4.13},{"c":4,"x":187,"v":4.06},{"c":4,"x":195,"v":4.02},{"c":4,"x":205,"v":4},{"c":4,"x":283,"v":4},
{"c":5,"x":0,"v":5},{"c":5,"x":130,"v":5},{"c":5,"x":139,"v":5.02},{"c":5,"x":144,"v":5.05},{"c":5,"x":149,"v":5.11},{"c":5,"x":154,"v":5.21},{"c":5,"x":159,"v":5.34},{"c":5,"x":164,"v":5.5},{"c":5,"x":169,"v":5.66},{"c":5,"x":174,"v":5.78},{"c":5,"x":179,"v":5.82},{"c":5,"x":184,"v":5.78},{"c":5,"x":189,"v":5.66},{"c":5,"x":194,"v":5.5},{"c":5,"x":199,"v":5.34},{"c":5,"x":204,"v":5.21},{"c":5,"x":209,"v":5.11},{"c":5,"x":214,"v":5.05},{"c":5,"x":219,"v":5.02},{"c":5,"x":228,"v":5},{"c":5,"x":283,"v":5},
{"c":6,"x":0,"v":6},{"c":6,"x":148,"v":6.02},{"c":6,"x":156,"v":6.05},{"c":6,"x":162,"v":6.11},{"c":6,"x":168,"v":6.21},{"c":6,"x":174,"v":6.34},{"c":6,"x":180,"v":6.5},{"c":6,"x":186,"v":6.66},{"c":6,"x":192,"v":6.78},{"c":6,"x":198,"v":6.82},{"c":6,"x":204,"v":6.78},{"c":6,"x":210,"v":6.66},{"c":6,"x":216,"v":6.5},{"c":6,"x":222,"v":6.34},{"c":6,"x":228,"v":6.21},{"c":6,"x":234,"v":6.11},{"c":6,"x":240,"v":6.05},{"c":6,"x":248,"v":6.02},{"c":6,"x":258,"v":6},{"c":6,"x":283,"v":6},
{"c":7,"x":0,"v":7},{"c":7,"x":157,"v":7.02},{"c":7,"x":165,"v":7.05},{"c":7,"x":171,"v":7.1},{"c":7,"x":177,"v":7.19},{"c":7,"x":183,"v":7.31},{"c":7,"x":189,"v":7.47},{"c":7,"x":195,"v":7.62},{"c":7,"x":201,"v":7.73},{"c":7,"x":207,"v":7.77},{"c":7,"x":213,"v":7.73},{"c":7,"x":219,"v":7.62},{"c":7,"x":225,"v":7.47},{"c":7,"x":231,"v":7.31},{"c":7,"x":237,"v":7.19},{"c":7,"x":243,"v":7.1},{"c":7,"x":249,"v":7.05},{"c":7,"x":257,"v":7.02},{"c":7,"x":267,"v":7},{"c":7,"x":283,"v":7},
{"c":8,"x":0,"v":8},{"c":8,"x":170,"v":8},{"c":8,"x":179,"v":8.014},{"c":8,"x":187,"v":8.044},{"c":8,"x":193,"v":8.09},{"c":8,"x":199,"v":8.17},{"c":8,"x":205,"v":8.27},{"c":8,"x":211,"v":8.41},{"c":8,"x":217,"v":8.54},{"c":8,"x":223,"v":8.63},{"c":8,"x":229,"v":8.67},{"c":8,"x":235,"v":8.63},{"c":8,"x":241,"v":8.54},{"c":8,"x":247,"v":8.41},{"c":8,"x":253,"v":8.27},{"c":8,"x":259,"v":8.17},{"c":8,"x":265,"v":8.09},{"c":8,"x":271,"v":8.044},{"c":8,"x":277,"v":8.02},{"c":8,"x":283,"v":8.01},
{"c":9,"x":0,"v":9},{"c":9,"x":172,"v":9.007},{"c":9,"x":182,"v":9.03},{"c":9,"x":190,"v":9.074},{"c":9,"x":196,"v":9.13},{"c":9,"x":202,"v":9.22},{"c":9,"x":208,"v":9.33},{"c":9,"x":214,"v":9.45},{"c":9,"x":220,"v":9.56},{"c":9,"x":226,"v":9.64},{"c":9,"x":232,"v":9.67},{"c":9,"x":238,"v":9.64},{"c":9,"x":244,"v":9.56},{"c":9,"x":250,"v":9.45},{"c":9,"x":256,"v":9.33},{"c":9,"x":262,"v":9.22},{"c":9,"x":268,"v":9.13},{"c":9,"x":274,"v":9.074},{"c":9,"x":283,"v":9.03},
{"c":10,"x":0,"v":10},{"c":10,"x":190,"v":10.01},{"c":10,"x":198,"v":10.034},{"c":10,"x":204,"v":10.076},{"c":10,"x":210,"v":10.15},{"c":10,"x":216,"v":10.27},{"c":10,"x":222,"v":10.41},{"c":10,"x":228,"v":10.56},{"c":10,"x":234,"v":10.68},{"c":10,"x":240,"v":10.72},{"c":10,"x":246,"v":10.68},{"c":10,"x":252,"v":10.56},{"c":10,"x":258,"v":10.41},{"c":10,"x":264,"v":10.27},{"c":10,"x":270,"v":10.15},{"c":10,"x":276,"v":10.076},{"c":10,"x":283,"v":10.034}
        ]},
         "mark": {"type": "line", "strokeWidth": 2, "interpolate": "monotone", "clip": true},
         "encoding": {
           "x": {"field": "x", "type": "quantitative", "scale": {"domain": [0, 283], "nice": false, "zero": false}, "axis": {"values": [0, 50, 100, 150, 200, 250, 283], "labelExpr": "datum.value > 280 ? ['cm','sec'] : datum.value == 0 ? ['0','0'] : datum.value == 50 ? ['50','1.1'] : datum.value == 100 ? ['100','1.8'] : datum.value == 150 ? ['150','2.6'] : datum.value == 200 ? ['200','4.0'] : ['250','5.0']", "labelLineHeight": 30, "labelPadding": 12, "labelOverlap": false, "title": null}},
           "y": {"field": "v", "type": "quantitative", "scale": {"domain": [0.49, 11.51], "nice": false, "zero": false}, "axis": {"values": [1,2,3,4,5,6,7,8,9,10], "labelOffset": -7, "labelOverlap": false, "title": "cell", "labelPadding": 8, "titlePadding": 18}},
           "color": {"field": "c", "type": "nominal", "scale": {"domain": [1,2,3,4,5,6,7,8,9,10], "range": ["#7ad8d8","#a0ecd8","#9ce08c","#f4e890","#f0c020","#f8d4a0","#f08c94","#e0a4d4","#c4a8e8","#ccd6f4"]}, "legend": null}
         }},
        {"data": {"values": [
{"c":1,"x1":32.2,"x2":35.0,"y1":0.95,"y2":2.0},{"c":2,"x1":122.4,"x2":125.3,"y1":1.95,"y2":2.87},{"c":3,"x1":136.2,"x2":139.4,"y1":3.0,"y2":4.0},{"c":4,"x1":143.3,"x2":146.5,"y1":3.97,"y2":4.97},{"c":5,"x1":177.6,"x2":180.8,"y1":5.0,"y2":6.0},{"c":6,"x1":196.7,"x2":200.3,"y1":5.95,"y2":7.0},{"c":7,"x1":205.6,"x2":208.8,"y1":7.0,"y2":8.0},{"c":8,"x1":228.6,"x2":231.4,"y1":8.0,"y2":9.0},{"c":9,"x1":229.3,"x2":232.5,"y1":9.0,"y2":9.8},{"c":10,"x1":232.8,"x2":236.0,"y1":9.95,"y2":10.92}
        ]},
         "mark": {"type": "rect"},
         "encoding": {
           "x": {"field": "x1", "type": "quantitative", "scale": {"domain": [0, 283], "nice": false, "zero": false}, "axis": {"values": [0, 50, 100, 150, 200, 250, 283], "labelExpr": "datum.value > 280 ? ['cm','sec'] : datum.value == 0 ? ['0','0'] : datum.value == 50 ? ['50','1.1'] : datum.value == 100 ? ['100','1.8'] : datum.value == 150 ? ['150','2.6'] : datum.value == 200 ? ['200','4.0'] : ['250','5.0']", "labelLineHeight": 30, "labelPadding": 12, "labelOverlap": false, "title": null}},
           "x2": {"field": "x2"},
           "y": {"field": "y1", "type": "quantitative", "scale": {"domain": [0.49, 11.51], "nice": false, "zero": false}, "axis": {"orient": "right", "values": [1,2,3,4,5,6,7,8,9,10], "labelOffset": -7, "labelOverlap": false, "labelExpr": "['','12','22','21','10','27','15','10','15','16','31'][datum.value]", "labelPadding": 10, "title": "peak rate (Hz)", "titleAngle": 270, "titleBaseline": "top", "titlePadding": 15}},
           "y2": {"field": "y2"},
           "color": {"field": "c", "type": "nominal", "scale": {"domain": [1,2,3,4,5,6,7,8,9,10], "range": ["#7ad8d8","#a0ecd8","#9ce08c","#f4e890","#f0c020","#f8d4a0","#f08c94","#e0a4d4","#c4a8e8","#ccd6f4"]}, "legend": null}
         }}
       ]},
      {"title": {"text": "C", "offset": 2, "dx": -33},
       "width": 799, "height": 216,
       "layer": [
        {"data": {"values": [
{"t":12.9,"c":3},{"t":24.8,"c":3},{"t":58.6,"c":2},{"t":92.5,"c":5},{"t":106.5,"c":5},{"t":128.8,"c":7},{"t":132.8,"c":7},{"t":137.8,"c":7},{"t":162,"c":8},{"t":168.5,"c":8},{"t":173.3,"c":8},{"t":178.1,"c":8},{"t":164.1,"c":9},{"t":168.3,"c":9},{"t":171.9,"c":9},{"t":179.5,"c":10}
        ]},
         "mark": {"type": "tick", "orient": "vertical", "thickness": 4, "size": 15, "opacity": 1},
         "encoding": {
           "x": {"field": "t", "type": "quantitative", "scale": {"domain": [0, 201.5], "nice": false, "zero": false}, "axis": {"values": [0, 50, 100, 150, 200], "labelExpr": "datum.value >= 200 ? 'msec' : datum.label", "labelPadding": 12, "labelOverlap": false, "title": null}},
           "y": {"field": "c", "type": "quantitative", "scale": {"domain": [0.09, 11], "nice": false, "zero": false}, "axis": {"values": [1,2,3,4,5,6,7,8,9,10], "labelOverlap": false, "title": "cell", "labelPadding": 8, "titlePadding": 18}},
           "color": {"field": "c", "type": "nominal", "scale": {"domain": [1,2,3,4,5,6,7,8,9,10], "range": ["#7ad8d8","#a0ecd8","#9ce08c","#f4e890","#f0c020","#f8d4a0","#f08c94","#e0a4d4","#c4a8e8","#ccd6f4"]}, "legend": null}
         }},
        {"data": {"values": [{"s": "325789A", "t": 2.8, "y": 9.25}]},
         "mark": {"type": "text", "align": "left", "baseline": "middle", "fontSize": 24, "color": "white"},
         "encoding": {
           "x": {"field": "t", "type": "quantitative", "axis": {"values": [0, 50, 100, 150, 200], "labelExpr": "datum.value >= 200 ? 'msec' : datum.label", "labelPadding": 12, "labelOverlap": false, "title": null}},
           "y": {"field": "y", "type": "quantitative", "axis": {"values": [1,2,3,4,5,6,7,8,9,10], "labelOverlap": false, "title": "cell", "labelPadding": 8, "titlePadding": 18}},
           "text": {"field": "s"}}}
       ]},
      {"hconcat": [
        {"title": {"text": ["", "D"], "lineHeight": 11, "offset": -4, "dx": -29},
         "width": 229, "height": 216,
         "layer": [
          {"data": {"values": [
{"t":6.7,"c":2},{"t":19.9,"c":2},{"t":34.4,"c":5},{"t":34.7,"c":6},{"t":35.8,"c":6},{"t":44.7,"c":8},{"t":39.8,"c":9},{"t":40.6,"c":10},{"t":42.8,"c":10},{"t":45.3,"c":10},{"t":46.3,"c":10}
          ]},
           "mark": {"type": "tick", "orient": "vertical", "thickness": 3, "size": 14, "opacity": 1},
           "encoding": {
             "x": {"field": "t", "type": "quantitative", "scale": {"domain": [0, 53.3], "nice": false, "zero": false}, "axis": null},
             "y": {"field": "c", "type": "quantitative", "scale": {"domain": [-0.1, 11.1], "nice": false, "zero": false}, "axis": {"values": [1,2,3,4,5,6,7,8,9,10], "labelOverlap": false, "title": "cell", "labelPadding": 8, "titlePadding": 18}},
             "color": {"field": "c", "type": "nominal", "scale": {"domain": [1,2,3,4,5,6,7,8,9,10], "range": ["#7ad8d8","#a0ecd8","#9ce08c","#f4e890","#f0c020","#f8d4a0","#f08c94","#e0a4d4","#c4a8e8","#ccd6f4"]}, "legend": null}
           }},
          {"data": {"values": [{"a": 2.8, "b": 12.8, "y": 7.79}]},
           "mark": {"type": "rule", "strokeWidth": 5, "color": "white"},
           "encoding": {
             "x": {"field": "a", "type": "quantitative", "axis": null}, "x2": {"field": "b"},
             "y": {"field": "y", "type": "quantitative", "axis": {"values": [1,2,3,4,5,6,7,8,9,10], "labelOverlap": false, "title": "cell", "labelPadding": 8, "titlePadding": 18}}}},
          {"data": {"values": [{"s": "22569A8", "t": 2.8, "y": 9.22}]},
           "mark": {"type": "text", "align": "left", "baseline": "middle", "fontSize": 24, "color": "white"},
           "encoding": {
             "x": {"field": "t", "type": "quantitative", "axis": null},
             "y": {"field": "y", "type": "quantitative", "axis": {"values": [1,2,3,4,5,6,7,8,9,10], "labelOverlap": false, "title": "cell", "labelPadding": 8, "titlePadding": 18}},
             "text": {"field": "s"}}}
         ]},
        {"title": {"text": ["", "E"], "lineHeight": 11, "offset": -4, "dx": -28},
         "width": 230, "height": 216,
         "layer": [
          {"data": {"values": [
{"t":10.1,"c":2},{"t":14.9,"c":2},{"t":17.9,"c":2},{"t":25.7,"c":2},{"t":26.6,"c":2},{"t":19.8,"c":4},{"t":21.0,"c":4},{"t":28.1,"c":5},{"t":26.1,"c":6},{"t":30.1,"c":7},{"t":34.4,"c":9},{"t":41.8,"c":9},{"t":35.4,"c":10}
          ]},
           "mark": {"type": "tick", "orient": "vertical", "thickness": 3, "size": 14, "opacity": 1},
           "encoding": {
             "x": {"field": "t", "type": "quantitative", "scale": {"domain": [0, 50.2], "nice": false, "zero": false}, "axis": null},
             "y": {"field": "c", "type": "quantitative", "scale": {"domain": [-0.1, 11.1], "nice": false, "zero": false}, "axis": null},
             "color": {"field": "c", "type": "nominal", "scale": {"domain": [1,2,3,4,5,6,7,8,9,10], "range": ["#7ad8d8","#a0ecd8","#9ce08c","#f4e890","#f0c020","#f8d4a0","#f08c94","#e0a4d4","#c4a8e8","#ccd6f4"]}, "legend": null}
           }},
          {"data": {"values": [{"a": 2.8, "b": 12.8, "y": 7.79}]},
           "mark": {"type": "rule", "strokeWidth": 5, "color": "white"},
           "encoding": {"x": {"field": "a", "type": "quantitative", "axis": null}, "x2": {"field": "b"}, "y": {"field": "y", "type": "quantitative", "axis": null}}},
          {"data": {"values": [{"s": "246579A", "t": 2.8, "y": 9.22}]},
           "mark": {"type": "text", "align": "left", "baseline": "middle", "fontSize": 24, "color": "white"},
           "encoding": {"x": {"field": "t", "type": "quantitative", "axis": null}, "y": {"field": "y", "type": "quantitative", "axis": null}, "text": {"field": "s"}}}
         ]},
        {"title": {"text": ["", "F"], "lineHeight": 11, "offset": -4, "dx": -28},
         "width": 230, "height": 216,
         "layer": [
          {"data": {"values": [
{"t":17.2,"c":6},{"t":18.0,"c":6},{"t":19.3,"c":7},{"t":20.6,"c":8},{"t":23.7,"c":9}
          ]},
           "mark": {"type": "tick", "orient": "vertical", "thickness": 3, "size": 14, "opacity": 1},
           "encoding": {
             "x": {"field": "t", "type": "quantitative", "scale": {"domain": [0, 29.9], "nice": false, "zero": false}, "axis": null},
             "y": {"field": "c", "type": "quantitative", "scale": {"domain": [-0.1, 11.1], "nice": false, "zero": false}, "axis": null},
             "color": {"field": "c", "type": "nominal", "scale": {"domain": [1,2,3,4,5,6,7,8,9,10], "range": ["#7ad8d8","#a0ecd8","#9ce08c","#f4e890","#f0c020","#f8d4a0","#f08c94","#e0a4d4","#c4a8e8","#ccd6f4"]}, "legend": null}
           }},
          {"data": {"values": [{"a": 1.56, "b": 11.56, "y": 7.77}]},
           "mark": {"type": "rule", "strokeWidth": 5, "color": "white"},
           "encoding": {"x": {"field": "a", "type": "quantitative", "axis": null}, "x2": {"field": "b"}, "y": {"field": "y", "type": "quantitative", "axis": null}}},
          {"data": {"values": [{"s": "6789", "t": 1.56, "y": 9.29}]},
           "mark": {"type": "text", "align": "left", "baseline": "middle", "fontSize": 24, "color": "white"},
           "encoding": {"x": {"field": "t", "type": "quantitative", "axis": null}, "y": {"field": "y", "type": "quantitative", "axis": null}, "text": {"field": "s"}}}
         ]}
      ], "spacing": 55, "bounds": "flush"}
    ]}
  ]}
]
}
